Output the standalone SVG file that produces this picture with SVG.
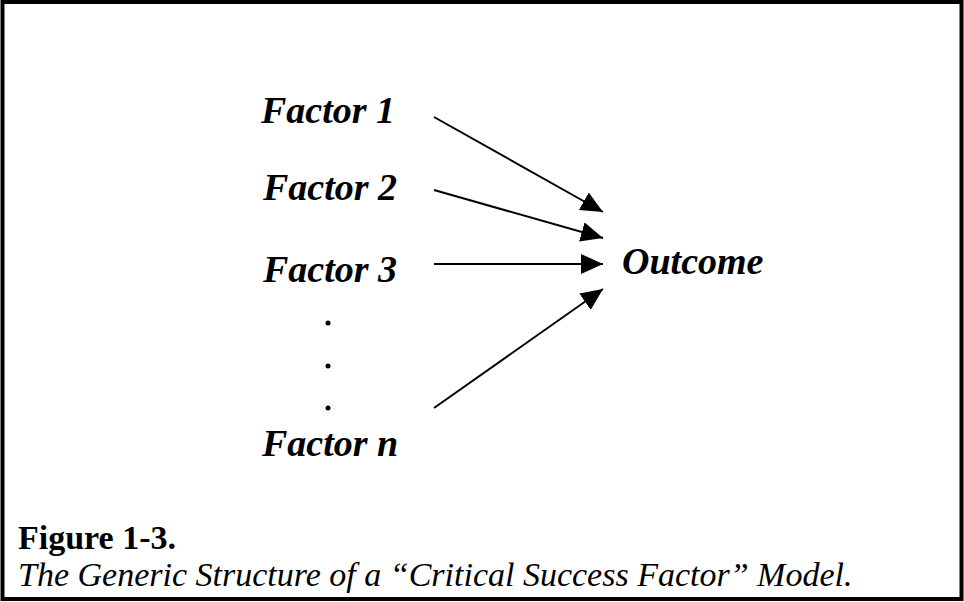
<svg xmlns="http://www.w3.org/2000/svg" width="964" height="602" viewBox="0 0 964 602">
<style>
.lbl{font-family:"Liberation Serif","Times New Roman",serif;font-weight:bold;font-style:italic;font-size:38px;fill:#000}
.cap{font-family:"Liberation Serif","Times New Roman",serif;font-size:34px;fill:#000}
.conn{stroke:#000;stroke-width:2;fill:none}
</style>
<defs>
<marker id="ah" markerUnits="userSpaceOnUse" markerWidth="24" markerHeight="20" refX="22" refY="10" orient="auto">
<path d="M0,0 L22,10 L0,20 Z" fill="#000"/>
</marker>
</defs>
<rect x="2.5" y="2" width="959" height="597" fill="#fff" stroke="#000" stroke-width="4"/>
<g id="factor1"><text class="lbl" x="261" y="123">Factor 1</text></g>
<g id="factor2"><text class="lbl" x="263" y="200">Factor 2</text></g>
<g id="factor3"><text class="lbl" x="263" y="282">Factor 3</text></g>
<g id="ellipsis"><circle cx="328" cy="323" r="2.5"/><circle cx="328" cy="366" r="2.5"/><circle cx="328" cy="408" r="2.5"/></g>
<g id="factorn"><text class="lbl" x="262" y="456">Factor n</text></g>
<g id="outcome"><text class="lbl" x="622" y="274">Outcome</text></g>
<g id="connectors">
<line class="conn" x1="434" y1="117" x2="603" y2="212" marker-end="url(#ah)"/>
<line class="conn" x1="434" y1="190" x2="603" y2="238" marker-end="url(#ah)"/>
<line class="conn" x1="434" y1="264" x2="603" y2="264" marker-end="url(#ah)"/>
<line class="conn" x1="434" y1="408" x2="603" y2="289" marker-end="url(#ah)"/>
</g>
<g id="caption">
<text class="cap" x="18" y="549" font-weight="bold">Figure 1-3.</text>
<text class="cap" x="18" y="586" font-style="italic">The Generic Structure of a “Critical Success Factor” Model.</text>
</g>
</svg>
